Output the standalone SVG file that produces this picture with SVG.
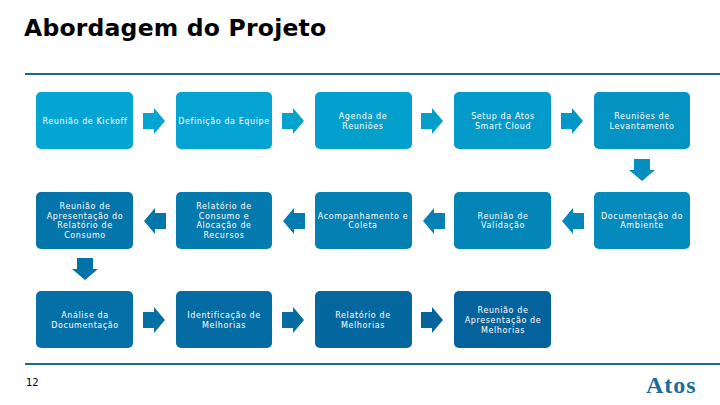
<svg xmlns="http://www.w3.org/2000/svg" width="720" height="405" viewBox="0 0 720 405">
<style>
text{font-family:"DejaVu Sans",Verdana,sans-serif}
.t{font-size:8px;fill:#fff;text-anchor:middle;letter-spacing:.6px}
.title{font-size:23.5px;font-weight:700;fill:#000;letter-spacing:.2px}
.rule{stroke:#20688f;stroke-width:2;fill:none}
</style>
<defs>
<path id="ar" d="M0 5H11V0L22 13 11 26V21H0Z"/>
<path id="al" d="M22 5H11V0L0 13 11 26V21H22Z"/>
<path id="ad" d="M5 0V11H0L13 22 26 11H21V0Z"/>
</defs>
<rect width="720" height="405" fill="#fff"/>
<text class="title" x="24" y="36">Abordagem do Projeto</text>
<path class="rule" d="M25 74H720M25 364H720"/>
<g id="connectors">
<use href="#ar" x="143" y="108" fill="#04a4d2"/>
<use href="#ar" x="282" y="108" fill="#04a2cf"/>
<use href="#ar" x="421" y="108" fill="#049ecb"/>
<use href="#ar" x="561" y="108" fill="#0496c6"/>
<use href="#ad" x="629" y="159" fill="#048fc0"/>
<use href="#al" x="562" y="208" fill="#0487ba"/>
<use href="#al" x="423" y="208" fill="#0482b6"/>
<use href="#al" x="283" y="208" fill="#047cb1"/>
<use href="#al" x="144" y="208" fill="#0476ac"/>
<use href="#ad" x="72" y="258" fill="#0472a8"/>
<use href="#ar" x="143" y="307" fill="#046fa5"/>
<use href="#ar" x="282" y="307" fill="#046ba2"/>
<use href="#ar" x="421" y="307" fill="#04659e"/>
</g>
<g id="n1"><rect x="36" y="92" width="97" height="57" rx="5" fill="#04a5d3"/><text class="t" x="85" y="124">Reunião de Kickoff</text></g>
<g id="n2"><rect x="176" y="92" width="96" height="57" rx="5" fill="#04a3d1"/><text class="t" x="224" y="124">Definição da Equipe</text></g>
<g id="n3"><rect x="315" y="92" width="97" height="57" rx="5" fill="#03a0ce"/><text class="t" x="363" y="119">Agenda de</text><text class="t" x="363" y="129">Reuniões</text></g>
<g id="n4"><rect x="454" y="92" width="97" height="57" rx="5" fill="#049aca"/><text class="t" x="503" y="119">Setup da Atos</text><text class="t" x="503" y="129">Smart Cloud</text></g>
<g id="n5"><rect x="594" y="92" width="96" height="57" rx="5" fill="#0493c3"/><text class="t" x="642" y="119">Reuniões de</text><text class="t" x="642" y="129">Levantamento</text></g>
<g id="n6"><rect x="594" y="192" width="96" height="57" rx="5" fill="#048abc"/><text class="t" x="642" y="219">Documentação do</text><text class="t" x="642" y="228">Ambiente</text></g>
<g id="n7"><rect x="454" y="192" width="97" height="57" rx="5" fill="#0485b8"/><text class="t" x="503" y="219">Reunião de</text><text class="t" x="503" y="228">Validação</text></g>
<g id="n8"><rect x="315" y="192" width="97" height="57" rx="5" fill="#0480b3"/><text class="t" x="363" y="219">Acompanhamento e</text><text class="t" x="363" y="228">Coleta</text></g>
<g id="n9"><rect x="176" y="192" width="96" height="57" rx="5" fill="#047aae"/><text class="t" x="224" y="209">Relatório de</text><text class="t" x="224" y="219">Consumo e</text><text class="t" x="224" y="228">Alocação de</text><text class="t" x="224" y="238">Recursos</text></g>
<g id="n10"><rect x="36" y="192" width="97" height="57" rx="5" fill="#0475aa"/><text class="t" x="85" y="209">Reunião de</text><text class="t" x="85" y="219">Apresentação do</text><text class="t" x="85" y="228">Relatório de</text><text class="t" x="85" y="238">Consumo</text></g>
<g id="n11"><rect x="36" y="291" width="97" height="57" rx="5" fill="#0470a6"/><text class="t" x="85" y="318">Análise da</text><text class="t" x="85" y="328">Documentação</text></g>
<g id="n12"><rect x="176" y="291" width="96" height="57" rx="5" fill="#046ca3"/><text class="t" x="224" y="318">Identificação de</text><text class="t" x="224" y="328">Melhorias</text></g>
<g id="n13"><rect x="315" y="291" width="97" height="57" rx="5" fill="#04689f"/><text class="t" x="363" y="318">Relatório de</text><text class="t" x="363" y="328">Melhorias</text></g>
<g id="n14"><rect x="454" y="291" width="97" height="57" rx="5" fill="#04639c"/><text class="t" x="503" y="313">Reunião de</text><text class="t" x="503" y="323">Apresentação de</text><text class="t" x="503" y="333">Melhorias</text></g>
<text x="26" y="386" font-size="10" fill="#000">12</text>
<text x="646" y="393" font-size="24" font-weight="700" letter-spacing="1" style="font-family:'Liberation Serif',serif" fill="#1a6d9b">Atos</text>
</svg>
